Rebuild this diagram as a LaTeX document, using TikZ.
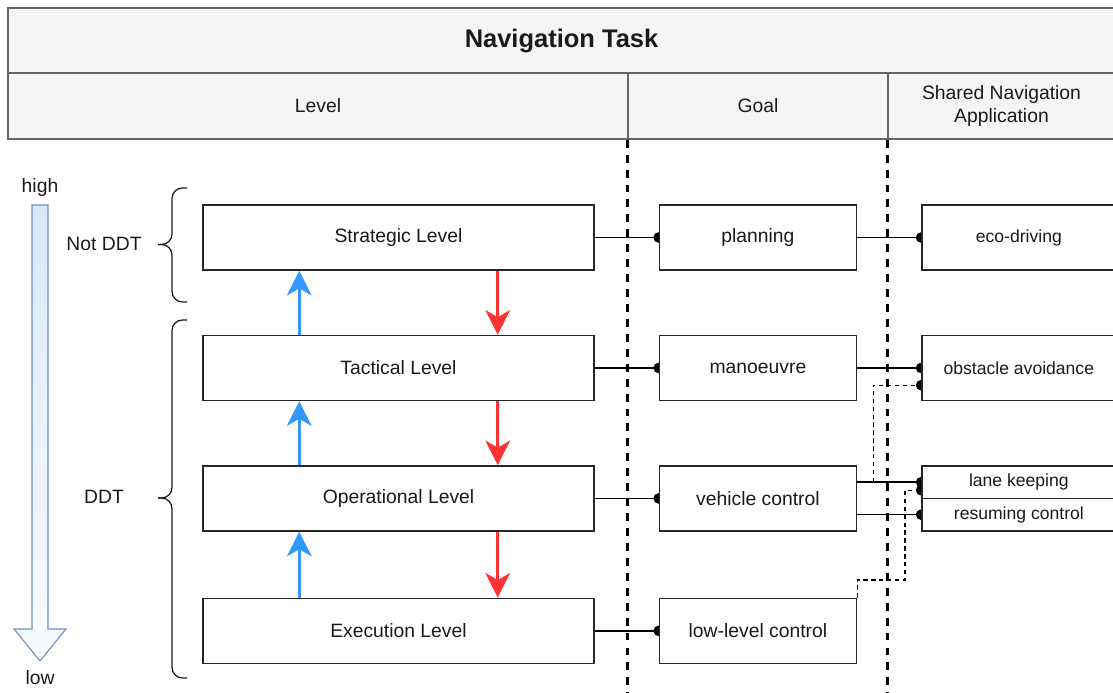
\documentclass[tikz,border=0pt]{standalone}
\usepackage{fontspec}
\setmainfont{Liberation Sans}
\usetikzlibrary{positioning,arrows.meta,backgrounds}

\definecolor{ink}{HTML}{1A1A1A}
\definecolor{hdrfill}{HTML}{F5F5F5}
\definecolor{hdrline}{HTML}{666666}
\definecolor{upblue}{HTML}{3399FF}
\definecolor{downred}{HTML}{FF3333}
\definecolor{barfill}{HTML}{DAE8FC}
\definecolor{barline}{HTML}{6C8EBF}

\tikzset{
  box/.style={draw=black!85, fill=white, line width=0.85pt, text=ink, font=\fontsize{11}{13}\selectfont},
  lvl/.style={box, minimum width=7.82cm, minimum height=1.3cm},
  goal/.style={box, minimum width=3.94cm, minimum height=1.3cm},
  app/.style={box, minimum width=3.88cm, minimum height=1.3cm, font=\fontsize{10}{12}\selectfont},
  halfapp/.style={app, minimum height=0.65cm},
  hdr/.style={draw=hdrline, fill=hdrfill, line width=0.85pt, text=ink, minimum height=1.32cm, align=center, font=\fontsize{11}{13.5}\selectfont},
  link/.style={line width=0.85pt, -{Circle[length=6pt]}, shorten >=-3pt},
  dlink/.style={link, line width=0.6pt, dash pattern=on 2.5pt off 2pt},
  sep/.style={line width=1.7pt, dash pattern=on 4.5pt off 4pt},
  climb/.style={draw=upblue, line width=1.7pt, -{Stealth[length=14pt, width=14pt, inset=4pt]}},
  drop/.style={draw=downred, line width=1.7pt, -{Stealth[length=14pt, width=14pt, inset=4pt]}},
  curly/.style={draw=ink, line width=0.7pt, rounded corners=6pt},
  plain/.style={text=ink, font=\fontsize{11}{13}\selectfont}
}

\begin{document}
\begin{tikzpicture}[x=0.02cm, y=-0.02cm]
\useasboundingbox (0,0) rectangle (1113,693);
\clip (0,0) rectangle (1113,693);

% header
\node[hdr, minimum width=22.14cm, minimum height=1.3cm, font=\bfseries\fontsize{14.5}{17}\selectfont] (title) at (561.5,40.5) {Navigation Task};
\node[hdr, minimum width=12.4cm] (levelcol) at (318,106) {Level};
\node[hdr, minimum width=5.2cm] (goalcol) at (758,106) {Goal};
\node[hdr, minimum width=4.54cm] (appcol) at (1001.5,106) {Shared Navigation\\Application};

\coordinate (floor) at (0,693);
\draw[sep] (goalcol.south west) -- (goalcol.south west |- floor);
\draw[sep] (appcol.south west) -- (appcol.south west |- floor);

% levels
\node[lvl] (strategic) at (398.5,237.5) {Strategic Level};
\node[lvl, below=1.28cm of strategic] (tactical) {Tactical Level};
\node[lvl, below=1.28cm of tactical] (operational) {Operational Level};
\node[lvl, below=1.32cm of operational] (execution) {Execution Level};

% goals
\node[goal, right=1.28cm of strategic] (planning) {planning};
\node[goal, right=1.28cm of tactical] (manoeuvre) {manoeuvre};
\node[goal, right=1.28cm of operational] (vehicle) {vehicle control};
\node[goal, right=1.28cm of execution] (lowlevel) {low-level control};

% applications
\node[app, right=1.28cm of planning] (eco) {eco-driving};
\node[app, right=1.28cm of manoeuvre] (obstacle) {obstacle avoidance};
\node[halfapp, right=1.28cm of vehicle.north east, anchor=north west] (lane) {lane keeping};
\node[halfapp, below=-0.85pt of lane] (resume) {resuming control};

\begin{scope}[on background layer]
\draw[link] (strategic) -- (planning);
\draw[link] (planning) -- (eco);
\draw[link] (tactical) -- (manoeuvre);
\draw[link] (manoeuvre) -- (obstacle);
\draw[link] (operational) -- (vehicle);
\draw[link] (execution) -- (lowlevel);
\draw[link] (vehicle.east |- lane.west) -- (lane.west);
\draw[link] (vehicle.east |- resume.west) -- (resume.west);
\coordinate (split) at ([xshift=0.32cm]vehicle.east |- lane.west);
\draw[dlink] (split) |- ([yshift=0.32cm]obstacle.south west);
\draw[dlink] (lowlevel.north east) |- (905,580) |- ([yshift=-0.16cm]lane.west);
\end{scope}

% control flow between levels
\draw[climb] ([xshift=1.94cm]tactical.north west) -- ([xshift=1.94cm]strategic.south west);
\draw[climb] ([xshift=1.94cm]operational.north west) -- ([xshift=1.94cm]tactical.south west);
\draw[climb] ([xshift=1.94cm]execution.north west) -- ([xshift=1.94cm]operational.south west);
\draw[drop] ([xshift=-1.94cm]strategic.south east) -- ([xshift=-1.94cm]tactical.north east);
\draw[drop] ([xshift=-1.94cm]tactical.south east) -- ([xshift=-1.94cm]operational.north east);
\draw[drop] ([xshift=-1.94cm]operational.south east) -- ([xshift=-1.94cm]execution.north east);

% high / low scale
\shade[top color=barfill, bottom color=barfill!15, draw=barline, line width=0.6pt]
  (32,205) -- (48,205) -- (48,629) -- (66,629) -- (40,661) -- (14,629) -- (32,629) -- cycle;
\node[plain] (high) at (40,188) {high};
\node[plain] (low) at (40,678) {low};

% braces
\draw[curly] (187,188) -| (172,244.5) -- (158,244.5);
\draw[curly] (158,244.5) -- (172,244.5) |- (187,302);
\draw[curly] (187,320) -| (172,498) -- (158,498);
\draw[curly] (158,498) -- (172,498) |- (187,678);
\node[plain] (notddt) at (104,244) {Not DDT};
\node[plain] (ddt) at (104,497) {DDT};

\end{tikzpicture}
\end{document}
